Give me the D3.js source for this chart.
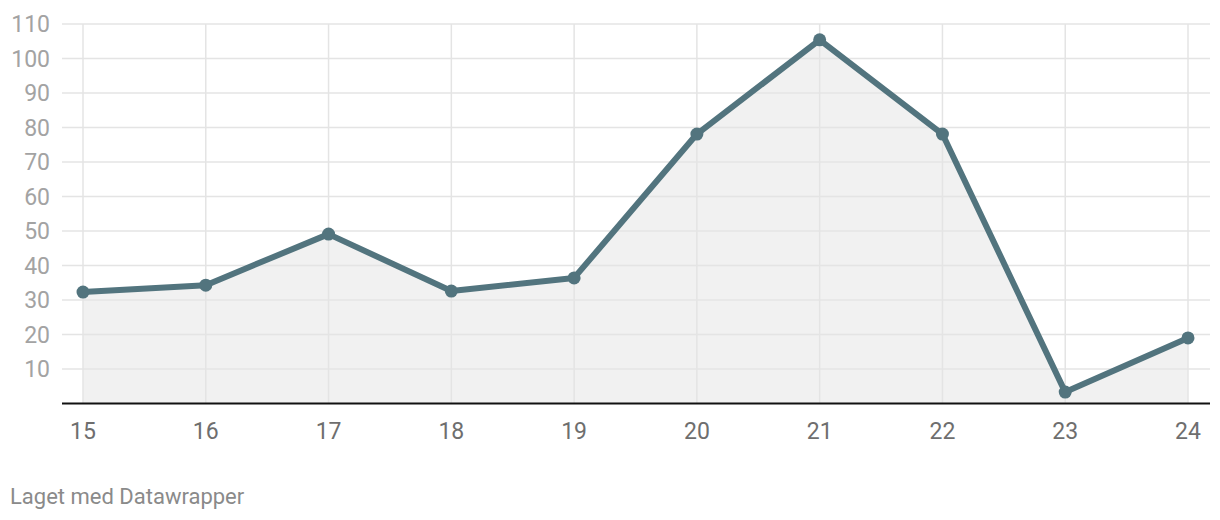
<!DOCTYPE html>
<html>
<head>
<meta charset="utf-8">
<script src="https://cdn.jsdelivr.net/npm/d3@7"></script>
<style>
  body { margin: 0; background: #fff; font-family: Roboto, sans-serif; }
</style>
</head>
<body>
<div id="chart"></div>
<script>
// data
const categories = [15, 16, 17, 18, 19, 20, 21, 22, 23, 24];
const values = [32.3, 34.3, 49.1, 32.6, 36.4, 78.1, 105.4, 78.1, 3.3, 19];
const yTicks = [10, 20, 30, 40, 50, 60, 70, 80, 90, 100, 110];

const W = 1220, H = 520;
const svg = d3.select("#chart").append("svg")
  .attr("width", W).attr("height", H);

const margin = {top: 24, right: 10, bottom: 116, left: 62};
const plotRight = W - margin.right;
const base = 403.5;

const x = d3.scalePoint()
  .domain(categories)
  .range([83, 1188]);

const y = d3.scaleLinear()
  .domain([0, 110])
  .range([base, margin.top]);

const pts = categories.map((c, i) => ({c: c, v: values[i]}));

// area under line
svg.append("path")
  .datum(pts)
  .attr("fill", "#f1f1f1")
  .attr("d", d3.area()
    .x(d => x(d.c))
    .y0(base)
    .y1(d => y(d.v)));

// vertical grid
svg.append("g")
  .selectAll("line")
  .data(categories)
  .enter().append("line")
    .attr("x1", d => x(d))
    .attr("x2", d => x(d))
    .attr("y1", y(110))
    .attr("y2", base)
    .attr("stroke", "#e4e4e4")
    .attr("stroke-width", 1.5);

// horizontal grid
svg.append("g")
  .selectAll("line")
  .data(yTicks)
  .enter().append("line")
    .attr("x1", margin.left)
    .attr("x2", plotRight)
    .attr("y1", d => y(d))
    .attr("y2", d => y(d))
    .attr("stroke", "#e4e4e4")
    .attr("stroke-width", 1.5);

// y labels
svg.append("g")
  .selectAll("text")
  .data(yTicks)
  .enter().append("text")
    .attr("x", 50)
    .attr("y", d => y(d))
    .attr("dy", "0.35em")
    .attr("text-anchor", "end")
    .attr("fill", "#a3a3a3")
    .attr("font-size", 23)
    .text(d => d);

// baseline
svg.append("line")
  .attr("x1", margin.left)
  .attr("x2", plotRight)
  .attr("y1", base)
  .attr("y2", base)
  .attr("stroke", "#111")
  .attr("stroke-width", 2);

// x labels
svg.append("g")
  .selectAll("text")
  .data(categories)
  .enter().append("text")
    .attr("x", d => x(d))
    .attr("y", 431)
    .attr("dy", "0.35em")
    .attr("text-anchor", "middle")
    .attr("fill", "#6e6e6e")
    .attr("font-size", 23)
    .text(d => d);

// line
svg.append("path")
  .datum(pts)
  .attr("fill", "none")
  .attr("stroke", "#52747e")
  .attr("stroke-width", 6)
  .attr("stroke-linejoin", "round")
  .attr("d", d3.line()
    .x(d => x(d.c))
    .y(d => y(d.v)));

// dots
svg.append("g")
  .selectAll("circle")
  .data(pts)
  .enter().append("circle")
    .attr("cx", d => x(d.c))
    .attr("cy", d => y(d.v))
    .attr("r", 6.5)
    .attr("fill", "#52747e");

// footer
svg.append("text")
  .attr("x", 10)
  .attr("y", 496)
  .attr("dy", "0.35em")
  .attr("fill", "#8a8a8a")
  .attr("font-size", 22)
  .text("Laget med Datawrapper");
</script>
</body>
</html>
